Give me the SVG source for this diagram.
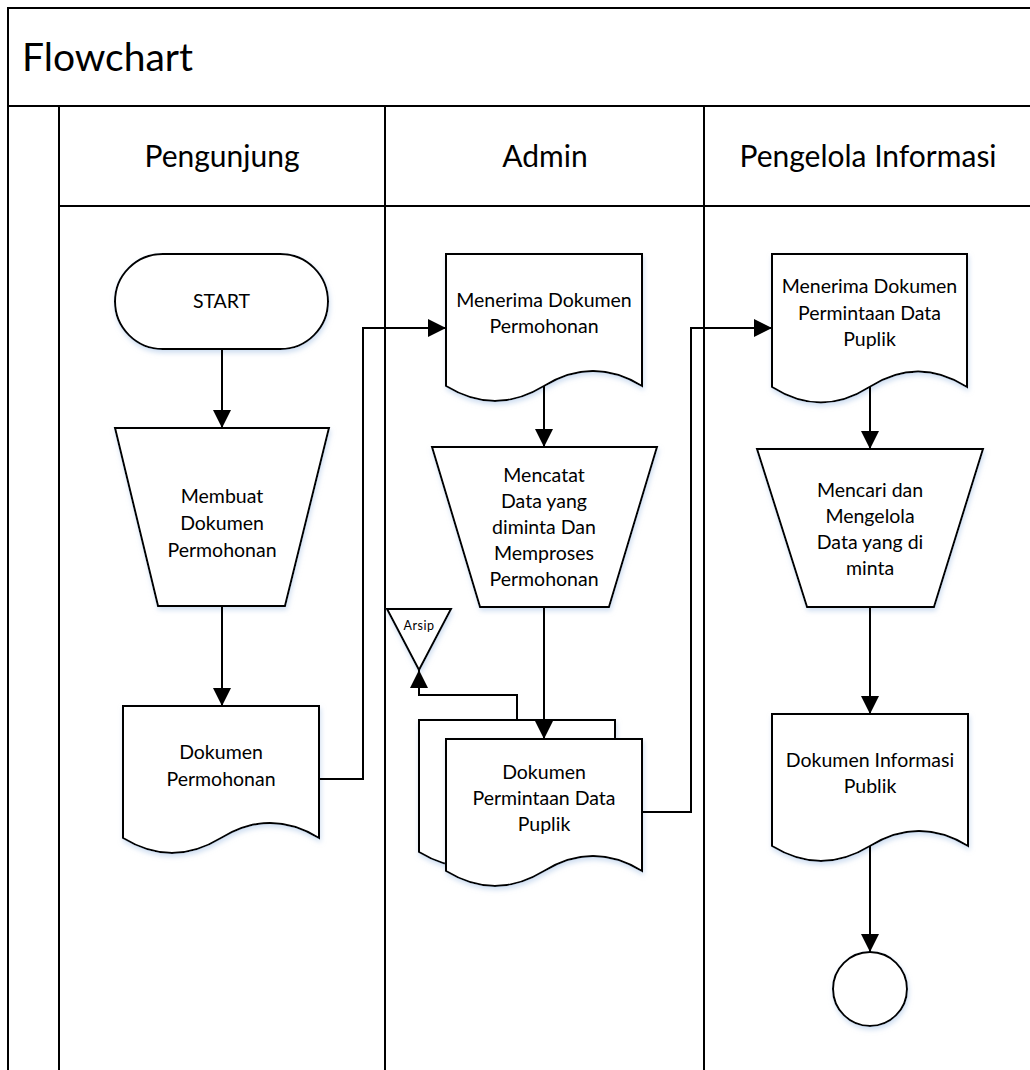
<svg xmlns="http://www.w3.org/2000/svg" width="1030" height="1070" viewBox="0 0 1030 1070">
  <style>
    .frame { fill: none; stroke: #000; stroke-width: 2; }
    .shape { fill: #fff; stroke: #000; stroke-width: 2; filter: url(#glow); }
    .flow { fill: none; stroke: #000; stroke-width: 2; }
    .title { font-family: Lato, "Liberation Sans", sans-serif; font-size: 39px; fill: #000; }
    .lane { font-family: Lato, "Liberation Sans", sans-serif; font-size: 30px; fill: #000; text-anchor: middle; }
    .lbl { font-family: Lato, "Liberation Sans", sans-serif; font-size: 19.5px; fill: #000; text-anchor: middle; }
    .small { font-family: Lato, "Liberation Sans", sans-serif; font-size: 12.5px; fill: #000; text-anchor: middle; letter-spacing: 0.5px; }
  </style>
  <defs>
    <filter id="glow" x="-10%" y="-10%" width="125%" height="130%">
      <feGaussianBlur in="SourceAlpha" stdDeviation="2.5" result="b"/>
      <feOffset in="b" dx="1" dy="3" result="o"/>
      <feFlood flood-color="#a9c4e6" flood-opacity="0.55"/>
      <feComposite in2="o" operator="in" result="s"/>
      <feMerge><feMergeNode in="s"/><feMergeNode in="SourceGraphic"/></feMerge>
    </filter>
    <marker id="arrow" viewBox="0 0 18 18" refX="18" refY="9" markerWidth="18" markerHeight="18" markerUnits="userSpaceOnUse" orient="auto">
      <path d="M0,0 L18,9 L0,18 Z" fill="#000"/>
    </marker>
  </defs>

  <rect width="1030" height="1070" fill="#fff"/>

  <!-- swimlane frame -->
  <g id="pool">
    <path class="frame" d="M8,1070 V8 H1030 M8,106 H1030 M59,106 V1070 M59,206 H1030 M385,106 V1070 M704,106 V1070"/>
    <text class="title" x="22" y="71">Flowchart</text>
    <text class="lane" x="222" y="167">Pengunjung</text>
    <text class="lane" x="545" y="167">Admin</text>
    <text class="lane" x="868" y="167">Pengelola Informasi</text>
  </g>

  <!-- Pengunjung lane -->
  <g id="start">
    <rect class="shape" x="115" y="254" width="213" height="95" rx="47.5"/>
    <text class="lbl" x="221.5" y="308">START</text>
  </g>
  <g id="membuat-dokumen">
    <path class="shape" d="M115,428 H329 L285,606 H158 Z"/>
    <text class="lbl" x="222" y="503">Membuat</text>
    <text class="lbl" x="222" y="530">Dokumen</text>
    <text class="lbl" x="222" y="557">Permohonan</text>
  </g>
  <g id="dokumen-permohonan">
    <path class="shape" d="M123,706 H319 V838 Q270,808 221,838 Q172,868 123,838 Z"/>
    <text class="lbl" x="221" y="759">Dokumen</text>
    <text class="lbl" x="221" y="786">Permohonan</text>
  </g>

  <!-- Admin lane -->
  <g id="menerima-permohonan">
    <path class="shape" d="M446,254 H642 V386 Q593,356 544,386 Q495,416 446,386 Z"/>
    <text class="lbl" x="544" y="307">Menerima Dokumen</text>
    <text class="lbl" x="544" y="333">Permohonan</text>
  </g>
  <g id="mencatat-data">
    <path class="shape" d="M432,447 H657 L609,607 H480 Z"/>
    <text class="lbl" x="544" y="482">Mencatat</text>
    <text class="lbl" x="544" y="508">Data yang</text>
    <text class="lbl" x="544" y="534">diminta Dan</text>
    <text class="lbl" x="544" y="560">Memproses</text>
    <text class="lbl" x="544" y="586">Permohonan</text>
  </g>
  <g id="arsip">
    <path class="shape" d="M387,609 H451 L419,670 Z"/>
    <text class="small" x="419" y="630">Arsip</text>
  </g>
  <g id="dokumen-permintaan">
    <path class="shape" d="M419,720 H615 V852 Q566,822 517,852 Q468,882 419,852 Z"/>
    <path class="shape" d="M446,739 H642 V871 Q593,841 544,871 Q495,901 446,871 Z"/>
    <text class="lbl" x="544" y="779">Dokumen</text>
    <text class="lbl" x="544" y="805">Permintaan Data</text>
    <text class="lbl" x="544" y="831">Puplik</text>
  </g>

  <!-- Pengelola Informasi lane -->
  <g id="menerima-permintaan">
    <path class="shape" d="M772,254 H967 V387 Q918,356 869.5,387 Q821,418 772,387 Z"/>
    <text class="lbl" x="869.5" y="293">Menerima Dokumen</text>
    <text class="lbl" x="869.5" y="320">Permintaan Data</text>
    <text class="lbl" x="869.5" y="346">Puplik</text>
  </g>
  <g id="mencari-data">
    <path class="shape" d="M757,449 H983 L934,607 H807 Z"/>
    <text class="lbl" x="870" y="497">Mencari dan</text>
    <text class="lbl" x="870" y="523">Mengelola</text>
    <text class="lbl" x="870" y="549">Data yang di</text>
    <text class="lbl" x="870" y="575">minta</text>
  </g>
  <g id="dokumen-informasi">
    <path class="shape" d="M772,714 H968 V846 Q919,816 870,846 Q821,876 772,846 Z"/>
    <text class="lbl" x="870" y="767">Dokumen Informasi</text>
    <text class="lbl" x="870" y="793">Publik</text>
  </g>
  <g id="end">
    <circle class="shape" cx="870" cy="989" r="37"/>
  </g>

  <!-- connectors -->
  <g id="connectors">
    <path class="flow" marker-end="url(#arrow)" d="M222,349 V428"/>
    <path class="flow" marker-end="url(#arrow)" d="M222,606 V706"/>
    <path class="flow" marker-end="url(#arrow)" d="M319,779 H363 V328 H446"/>
    <path class="flow" marker-end="url(#arrow)" d="M544,386 V447"/>
    <path class="flow" marker-end="url(#arrow)" d="M544,607 V739"/>
    <path class="flow" marker-end="url(#arrow)" d="M517,720 V695 H419 V670"/>
    <path class="flow" marker-end="url(#arrow)" d="M642,812 H691 V328 H772"/>
    <path class="flow" marker-end="url(#arrow)" d="M870,387 V449"/>
    <path class="flow" marker-end="url(#arrow)" d="M870,607 V714"/>
    <path class="flow" marker-end="url(#arrow)" d="M870,846 V952"/>
  </g>
</svg>
